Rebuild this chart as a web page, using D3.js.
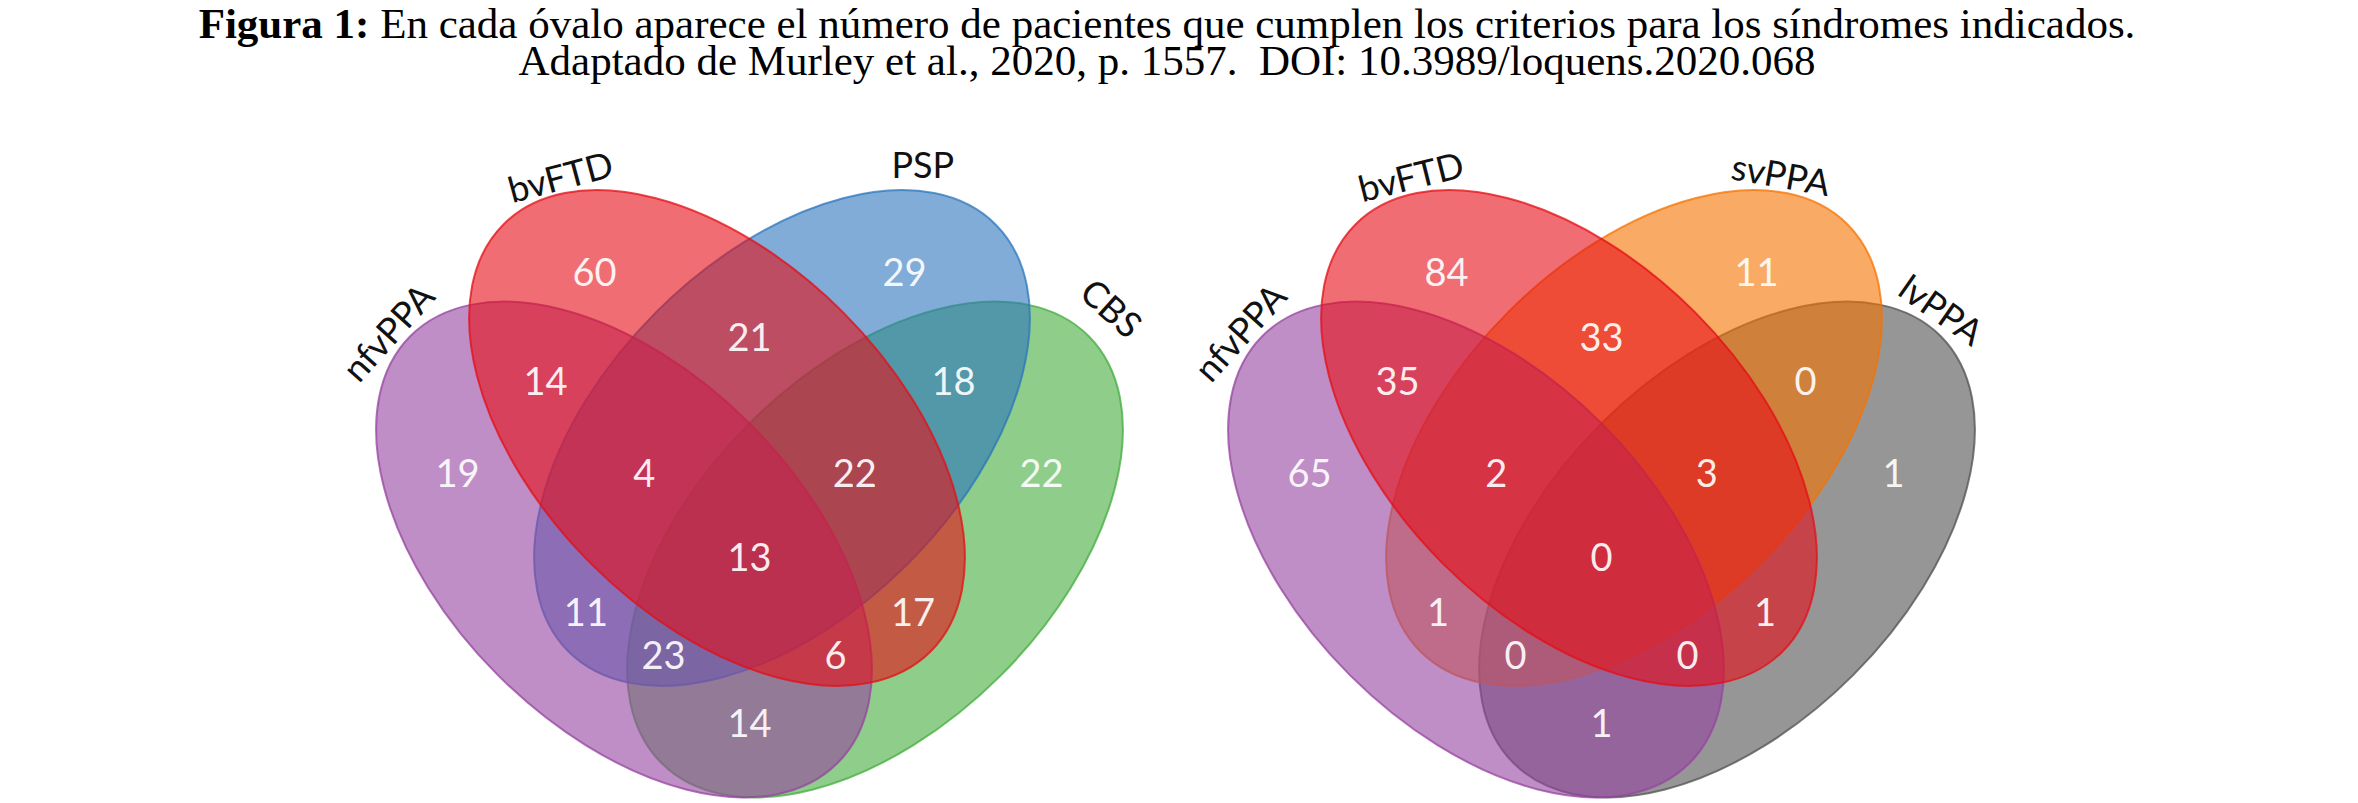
<!DOCTYPE html>
<html>
<head>
<meta charset="utf-8">
<script src="https://cdn.jsdelivr.net/npm/d3@7"></script>
<style>
html, body { margin: 0; padding: 0; background: #fff; }
svg { display: block; }
</style>
</head>
<body>
<div id="figure"></div>
<script>
// data
const regionKeys = ['A', 'B', 'C', 'D', 'AB', 'AC', 'AD', 'BC', 'BD', 'CD', 'ABC', 'ABD', 'ACD', 'BCD', 'ABCD']
const setsLeft = ['nfvPPA', 'bvFTD', 'PSP', 'CBS']
const countsLeft = [19, 60, 29, 22, 14, 11, 14, 21, 17, 18, 4, 6, 23, 22, 13]
const setsRight = ['nfvPPA', 'bvFTD', 'svPPA', 'lvPPA']
const countsRight = [65, 84, 11, 1, 35, 1, 1, 33, 1, 0, 2, 0, 0, 3, 0]
const titleBold = 'Figura 1:'
const titleRest = ' En cada óvalo aparece el número de pacientes que cumplen los criterios para los síndromes indicados.'
const subtitle = 'Adaptado de Murley et al., 2020, p. 1557.  DOI: 10.3989/loquens.2020.068'

// canvas
const width = 2358
const height = 803
const svg = d3.select('#figure').append('svg')
    .attr('width', width)
    .attr('height', height)

// title
const titleG = svg.append('g')
    .attr('font-family', "'Liberation Serif', 'Times New Roman', serif")
    .attr('font-size', 43)
    .attr('fill', '#000')
    .attr('text-anchor', 'middle')
const t1 = titleG.append('text').attr('x', 1167).attr('y', 38)
t1.append('tspan').attr('font-weight', 'bold').text(titleBold)
t1.append('tspan').text(titleRest)
titleG.append('text')
    .attr('x', 1167)
    .attr('y', 75)
    .style('white-space', 'pre')
    .text(subtitle)

// venn layout in unit space (left half ellipses, right half mirrored)
const semiA = 0.4043
const semiB = 0.2383
const baseOuter = { cx: 0.332, cy: 0.4826 }
const baseInner = { cx: 0.4565, cy: 0.3333 }
const ellipses = [
    { base: baseOuter, mirror: false },
    { base: baseInner, mirror: false },
    { base: baseInner, mirror: true },
    { base: baseOuter, mirror: true }
]
const drawOrder = [3, 2, 0, 1]
// where each region's count sits (unit space, same template for both diagrams)
const regionLabelPos = {
    A: [0.109, 0.380], B: [0.2925, 0.111], C: [0.7075, 0.111], D: [0.891, 0.380],
    AB: [0.227, 0.257], AC: [0.281, 0.567], AD: [0.5, 0.715], BC: [0.5, 0.198],
    BD: [0.719, 0.567], CD: [0.773, 0.257], ABC: [0.359, 0.381], ABD: [0.615, 0.6245],
    ACD: [0.385, 0.6245], BCD: [0.641, 0.381], ABCD: [0.5, 0.4926]
}
const cs = Math.SQRT1_2

// point on an ellipse at parameter angle t, scaled outward by r
function pointOn(e, tDeg, r) {
    const t = tDeg * Math.PI / 180
    const u = semiA * Math.cos(t) * r
    const v = semiB * Math.sin(t) * r
    const px = e.base.cx + u * cs + v * cs
    const py = e.base.cy + u * cs - v * cs
    return [e.mirror ? 1 - px : px, py]
}

const scaleSize = 747
const vennConfigs = [
    {
        x0: 376, y0: 189,
        sets: setsLeft, counts: countsLeft,
        colors: ['#9643a0', '#e60d16', '#2b75bc', '#43ac3c'],
        labels: [
            { t: 184, r: 1.063, rot: -48 },
            { t: 157, r: 1.062, rot: -15 },
            { t: 151.6, r: 1.10, rot: 0 },
            { t: 179, r: 1.118, rot: 42 }
        ]
    },
    {
        x0: 1228, y0: 189,
        sets: setsRight, counts: countsRight,
        colors: ['#9643a0', '#e60d16', '#f57300', '#505050'],
        labels: [
            { t: 184, r: 1.063, rot: -48 },
            { t: 157.3, r: 1.064, rot: -14 },
            { t: 154.3, r: 1.065, rot: 10 },
            { t: 174.6, r: 1.067, rot: 35 }
        ]
    }
]

vennConfigs.forEach(cfg => drawVenn(cfg))

function drawVenn({ x0, y0, sets, counts, colors, labels }) {
    const x = d3.scaleLinear().domain([0, 1]).range([x0, x0 + scaleSize])
    const y = d3.scaleLinear().domain([0, 1]).range([y0, y0 + scaleSize])
    const g = svg.append('g').attr('class', 'venn')
    const ecx = i => x(ellipses[i].mirror ? 1 - ellipses[i].base.cx : ellipses[i].base.cx)
    const ecy = i => y(ellipses[i].base.cy)

    // ellipses
    g.selectAll('ellipse')
        .data(drawOrder)
        .join('ellipse')
        .attr('cx', ecx)
        .attr('cy', ecy)
        .attr('rx', x(semiA) - x(0))
        .attr('ry', x(semiB) - x(0))
        .attr('transform', i => `rotate(${ellipses[i].mirror ? -45 : 45}, ${ecx(i)}, ${ecy(i)})`)
        .attr('fill', i => colors[i])
        .attr('fill-opacity', 0.6)
        .attr('stroke', i => colors[i])
        .attr('stroke-opacity', 0.75)
        .attr('stroke-width', 2)

    // region counts
    g.selectAll('text.count')
        .data(regionKeys.map((k, i) => ({ key: k, value: counts[i] })))
        .join('text')
        .attr('class', 'count')
        .attr('x', d => x(regionLabelPos[d.key][0]))
        .attr('y', d => y(regionLabelPos[d.key][1]))
        .attr('dy', '0.36em')
        .attr('text-anchor', 'middle')
        .attr('font-family', 'Lato, sans-serif')
        .attr('font-size', 38)
        .attr('fill', '#fff')
        .attr('fill-opacity', 0.92)
        .text(d => d.value)

    // set names
    g.selectAll('text.setname')
        .data(sets.map((s, i) => ({ name: s, pos: pointOn(ellipses[i], labels[i].t, labels[i].r), rot: labels[i].rot })))
        .join('text')
        .attr('class', 'setname')
        .attr('transform', d => `translate(${x(d.pos[0])}, ${y(d.pos[1])}) rotate(${d.rot})`)
        .attr('dy', '0.36em')
        .attr('text-anchor', 'middle')
        .attr('font-family', 'Lato, sans-serif')
        .attr('font-size', 36)
        .attr('fill', '#111')
        .text(d => d.name)
}
</script>
</body>
</html>
